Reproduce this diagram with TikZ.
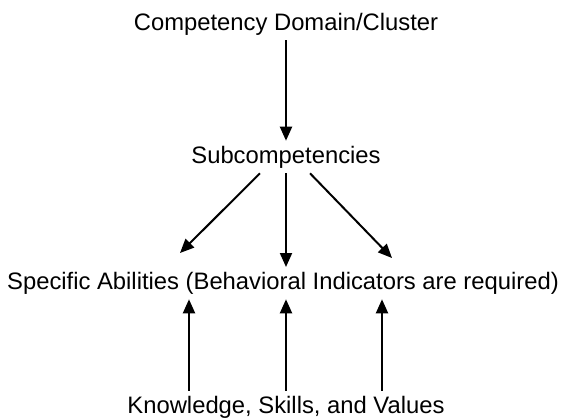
\documentclass[tikz,border=0pt]{standalone}
\usepackage{fontspec}
\setmainfont{Liberation Sans}
\usetikzlibrary{arrows.meta, calc, positioning}

\begin{document}
\begin{tikzpicture}[x=1pt, y=-1pt,
   font=\fontsize{23.8}{27}\selectfont,
   every node/.style = {inner sep=5pt},
   link/.style = {-{Triangle[length=14pt, width=12pt]}, line width=2pt}]
   \useasboundingbox (0,0) rectangle (565,420);

   \node (domain) at (286,24)  {Competency Domain/Cluster};
   \node (subcomp) at (286,157) {Subcompetencies};
   \node (abilities) at (283,283) {Specific Abilities (Behavioral Indicators are required)};
   \node (ksv) at (286,407) {Knowledge, Skills, and Values};

   \coordinate (tipL) at (180,253);
   \coordinate (tipR) at (392,258);

   \draw[link] (domain.south) -- (subcomp.north);
   \draw[link] ([xshift=-26pt]subcomp.south) -- (tipL);
   \draw[link] (subcomp.south) -- (subcomp.south |- 0,267);
   \draw[link] ([xshift=24pt]subcomp.south) -- (tipR);

   \draw[link] (ksv.north -| 189,0) -- (abilities.south -| 189,0);
   \draw[link] (ksv.north -| 286,0) -- (abilities.south -| 286,0);
   \draw[link] (ksv.north -| 382,0) -- (abilities.south -| 382,0);

\end{tikzpicture}
\end{document}
